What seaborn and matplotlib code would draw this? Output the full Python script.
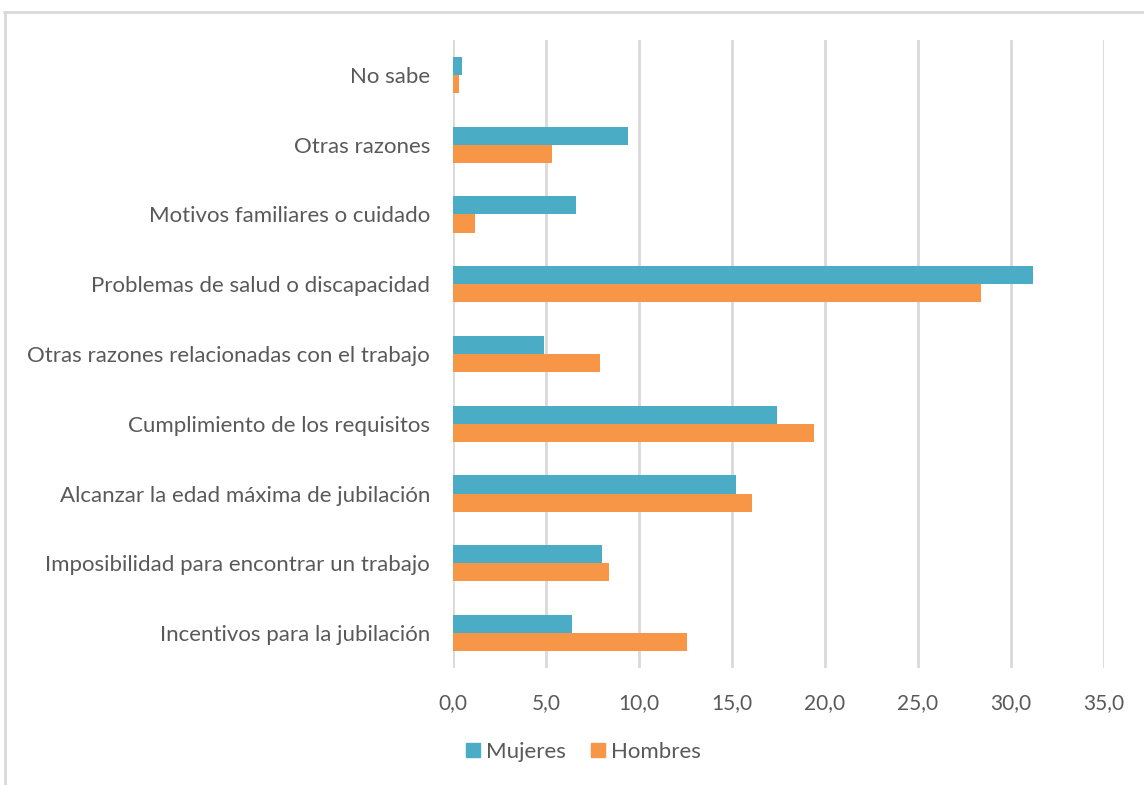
import matplotlib
matplotlib.use("Agg")
import matplotlib.pyplot as plt
import seaborn as sns
import pandas as pd
from matplotlib.lines import Line2D

categories = [
    "No sabe",
    "Otras razones",
    "Motivos familiares o cuidado",
    "Problemas de salud o discapacidad",
    "Otras razones relacionadas con el trabajo",
    "Cumplimiento de los requisitos",
    "Alcanzar la edad máxima de jubilación",
    "Imposibilidad para encontrar un trabajo",
    "Incentivos para la jubilación",
]
mujeres = [0.5, 9.4, 6.6, 31.2, 4.9, 17.4, 15.2, 8.0, 6.4]
hombres = [0.3, 5.3, 1.2, 28.4, 7.9, 19.4, 16.1, 8.4, 12.6]
series_names = ["Mujeres", "Hombres"]
colors = {"Mujeres": "#4BACC6", "Hombres": "#F79646"}
xticks = [0, 5, 10, 15, 20, 25, 30, 35]

df = pd.DataFrame({
    "categoria": categories * 2,
    "valor": mujeres + hombres,
    "serie": [series_names[0]] * len(categories) + [series_names[1]] * len(categories),
})

sns.set_style("white")
plt.rcParams["font.family"] = ["Lato", "DejaVu Sans"]
text_color = "#595959"

fig = plt.figure(figsize=(11.44, 7.85), dpi=100)
ax = fig.add_axes([453 / 1144, 1 - 668 / 785, (1104 - 453) / 1144, (668 - 40) / 785])

sns.barplot(data=df, x="valor", y="categoria", hue="serie", orient="h",
            palette=colors, order=categories, hue_order=series_names,
            width=0.52, ax=ax, legend=False, saturation=1, linewidth=0)

ax.set_xlim(0, 35)
ax.set_ylim(len(categories) - 0.5, -0.5)
ax.set_xticks(xticks)
ax.set_xticklabels([f"{t:.1f}".replace(".", ",") for t in xticks])
ax.set_xlabel("")
ax.set_ylabel("")
ax.grid(axis="x", color="#D9D9D9", linewidth=2)
ax.set_axisbelow(True)
for s in ax.spines.values():
    s.set_visible(False)
ax.tick_params(axis="both", length=0, labelcolor=text_color)
ax.tick_params(axis="x", pad=18, labelsize=15)
ax.tick_params(axis="y", pad=16.5, labelsize=16)

handles = [Line2D([], [], marker="s", linestyle="", markersize=9.5,
                  markerfacecolor=colors[n], markeredgecolor=colors[n]) for n in series_names]
fig.legend(handles, series_names, loc="center", bbox_to_anchor=(582 / 1144, 1 - 752 / 785),
           ncol=2, frameon=False, fontsize=16, labelcolor=text_color,
           handletextpad=0.15, columnspacing=1.0, handlelength=0.9)

# chart area border
fig.add_artist(Line2D([4 / 1144, 1.0], [1 - 11.5 / 785, 1 - 11.5 / 785],
                      transform=fig.transFigure, color="#D9D9D9", linewidth=2))
fig.add_artist(Line2D([4.5 / 1144, 4.5 / 1144], [0, 1 - 11.5 / 785],
                      transform=fig.transFigure, color="#D9D9D9", linewidth=2))

fig.savefig("out.png", dpi=100)
